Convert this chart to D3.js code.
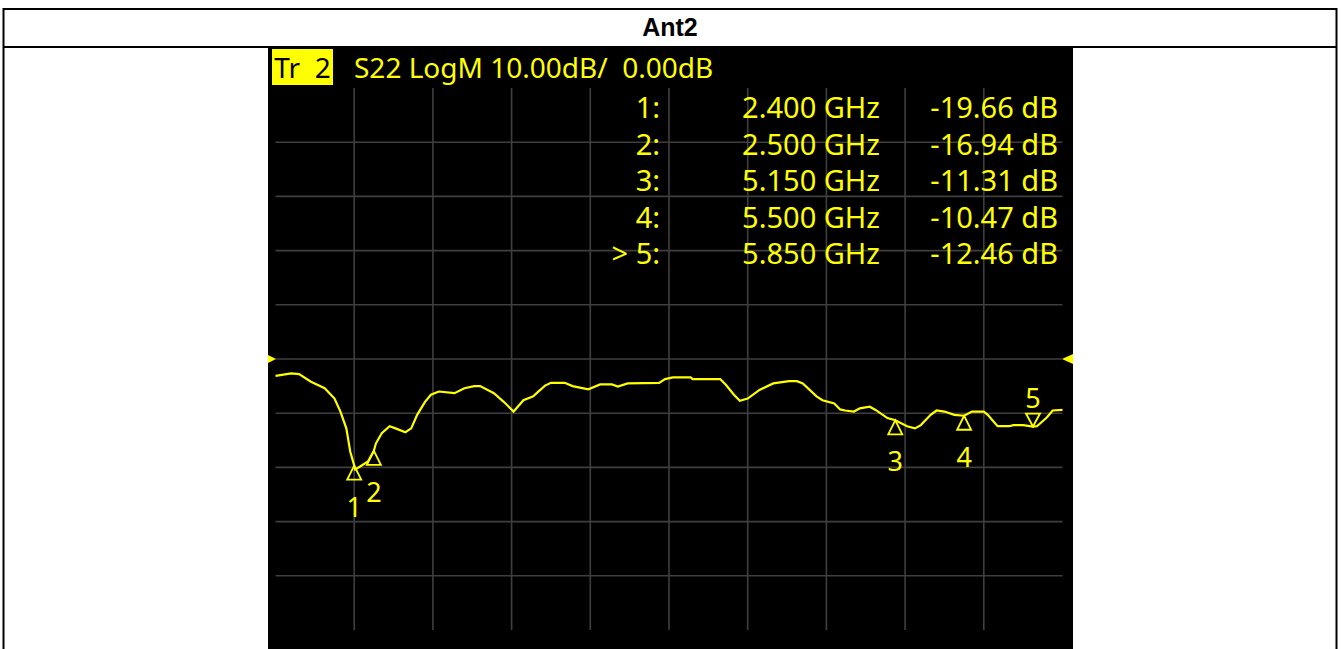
<!DOCTYPE html>
<html>
<head>
<meta charset="utf-8">
<script src="https://cdn.jsdelivr.net/npm/d3@7"></script>
<style>
  html, body { margin: 0; padding: 0; background: #fff; }
  svg { display: block; }
  .vna text { font-family: "Noto Sans", "Open Sans", sans-serif; fill: #ffff00; }
</style>
</head>
<body>
<svg id="chart" width="1341" height="649"></svg>
<script>
// S22 trace, 2–6 GHz
const freqGHz = [2.00, 2.08, 2.12, 2.18, 2.25, 2.30, 2.33, 2.36, 2.38, 2.40, 2.405, 2.44, 2.47, 2.50, 2.51,
  2.54, 2.58, 2.61, 2.66, 2.69, 2.72, 2.76, 2.79, 2.83, 2.91, 2.96, 3.01, 3.04, 3.11, 3.16, 3.21, 3.26,
  3.31, 3.33, 3.37, 3.40, 3.47, 3.51, 3.59, 3.65, 3.71, 3.74, 3.79, 3.95, 3.98, 4.02, 4.11, 4.12, 4.26,
  4.29, 4.33, 4.36, 4.40, 4.46, 4.53, 4.61, 4.65, 4.68, 4.75, 4.78, 4.84, 4.87, 4.895, 4.94, 4.97, 5.02,
  5.05, 5.11, 5.15, 5.21, 5.25, 5.28, 5.33, 5.36, 5.40, 5.45, 5.50, 5.54, 5.60, 5.62, 5.67, 5.73, 5.75,
  5.80, 5.85, 5.87, 5.92, 5.95, 6.00];
const s22dB = [-3.1, -2.65, -2.8, -4.2, -5.4, -7.3, -9.7, -12.8, -17.1, -19.66, -20.4, -19.6, -18.9, -16.94, -15.6,
  -13.7, -12.4, -12.8, -13.5, -12.8, -10.3, -7.9, -6.6, -6.0, -6.3, -5.4, -5.0, -5.0, -6.3, -7.9, -9.7, -7.6,
  -6.9, -6.2, -4.9, -4.4, -4.4, -5.0, -5.6, -4.7, -4.7, -5.1, -4.5, -4.4, -3.7, -3.4, -3.4, -3.7, -3.7,
  -4.8, -6.6, -7.7, -7.3, -5.7, -4.5, -4.1, -4.1, -4.5, -6.9, -7.6, -8.2, -9.3, -9.5, -9.7, -9.1, -8.8,
  -9.4, -10.9, -11.31, -12.4, -12.8, -12.2, -10.3, -9.5, -9.7, -10.3, -10.47, -9.7, -9.7, -10.3, -12.4, -12.4, -12.2,
  -12.2, -12.46, -12.4, -10.8, -9.5, -9.4];

// markers
const markerIds = ['1', '2', '3', '4', '5'];
const markerGHz = [2.400, 2.500, 5.150, 5.500, 5.850];
const markerDB = [-19.66, -16.94, -11.31, -10.47, -12.46];
const activeMarker = '5';

const title = 'Ant2';
const traceLabel = 'Tr  2';
const traceInfo = 'S22 LogM 10.00dB/  0.00dB';

// axis settings: 2..6 GHz, 10 dB/div, ref 0 dB at center
const xTicks = d3.range(0, 11).map(i => 2 + i * 0.4);
const yTicks = d3.range(0, 11).map(i => 50 - i * 10);

(function () {
  const svg = d3.select('#chart');
  const YEL = '#ffff00', GRID = '#3f3f3f';

  // table frame around the screenshot
  svg.append('rect').attr('x', 3.5).attr('y', 9).attr('width', 1333).attr('height', 660)
    .attr('fill', 'none').attr('stroke', '#000').attr('stroke-width', 2);
  svg.append('line').attr('x1', 3).attr('x2', 1337).attr('y1', 47).attr('y2', 47)
    .attr('stroke', '#000').attr('stroke-width', 2);
  svg.append('text').attr('x', 670).attr('y', 36).attr('text-anchor', 'middle')
    .attr('font-family', 'Liberation Sans, Arial, sans-serif').attr('font-weight', 'bold')
    .attr('font-size', 25).text(title);

  // black instrument screen
  const g = svg.append('g').attr('class', 'vna');
  g.append('rect').attr('x', 268).attr('y', 48).attr('width', 805).attr('height', 601).attr('fill', '#000');

  const x = d3.scaleLinear().domain([2, 6]).range([275.5, 1062.5]);
  const y = d3.scaleLinear().domain([50, -50]).range([88, 630]);

  // graticule (interior lines only)
  g.append('g').selectAll('line').data(xTicks.slice(1, -1)).join('line')
    .attr('x1', d => x(d)).attr('x2', d => x(d)).attr('y1', y(50)).attr('y2', y(-50))
    .attr('stroke', GRID).attr('stroke-width', 1.6);
  g.append('g').selectAll('line').data(yTicks.slice(1, -1)).join('line')
    .attr('x1', x(2)).attr('x2', x(6)).attr('y1', d => y(d)).attr('y2', d => y(d))
    .attr('stroke', GRID).attr('stroke-width', 1.6);

  // header line
  g.append('rect').attr('x', 272).attr('y', 49).attr('width', 61).attr('height', 36).attr('fill', YEL);
  g.append('text').attr('x', 302.5).attr('y', 78).attr('text-anchor', 'middle').attr('font-size', 28)
    .style('fill', '#000').style('white-space', 'pre').text(traceLabel);
  g.append('text').attr('x', 354).attr('y', 78).attr('font-size', 28)
    .style('white-space', 'pre').text(traceInfo);

  // marker readout table
  const rows = g.append('g').selectAll('g').data(markerIds).join('g')
    .attr('transform', (d, i) => `translate(0,${118 + i * 36.5})`);
  rows.append('text').attr('x', 660).attr('text-anchor', 'end').attr('font-size', 29)
    .style('white-space', 'pre')
    .text(d => (d === activeMarker ? '> ' : '') + d + ':');
  rows.append('text').attr('x', 880).attr('text-anchor', 'end').attr('font-size', 29)
    .text((d, i) => markerGHz[i].toFixed(3) + ' GHz');
  rows.append('text').attr('x', 1058).attr('text-anchor', 'end').attr('font-size', 29)
    .text((d, i) => markerDB[i].toFixed(2) + ' dB');

  // reference level arrows
  g.append('path').attr('fill', YEL)
    .attr('d', `M268,${y(0) - 4}L276,${y(0)}L268,${y(0) + 4}Z`);
  g.append('path').attr('fill', YEL)
    .attr('d', `M1073,${y(0) - 5}L1062,${y(0)}L1073,${y(0) + 5}Z`);

  // trace
  const pts = freqGHz.map((f, i) => [f, s22dB[i]]);
  g.append('path').datum(pts)
    .attr('fill', 'none').attr('stroke', YEL).attr('stroke-width', 2.2)
    .attr('d', d3.line().x(d => x(d[0])).y(d => y(d[1])));

  // marker triangles + numbers
  const mk = g.append('g').selectAll('g').data(markerIds).join('g')
    .attr('transform', (d, i) => `translate(${x(markerGHz[i])},${y(markerDB[i])})`);
  mk.append('path').attr('fill', 'none').attr('stroke', YEL).attr('stroke-width', 1.8)
    .attr('d', d => d === activeMarker ? 'M0,0L-7,-13L7,-13Z' : 'M0,0L-7,14L7,14Z');
  mk.append('text').attr('text-anchor', 'middle').attr('font-size', 27)
    .attr('y', d => d === activeMarker ? -19 : 51)
    .text(d => d);
})();
</script>
</body>
</html>
